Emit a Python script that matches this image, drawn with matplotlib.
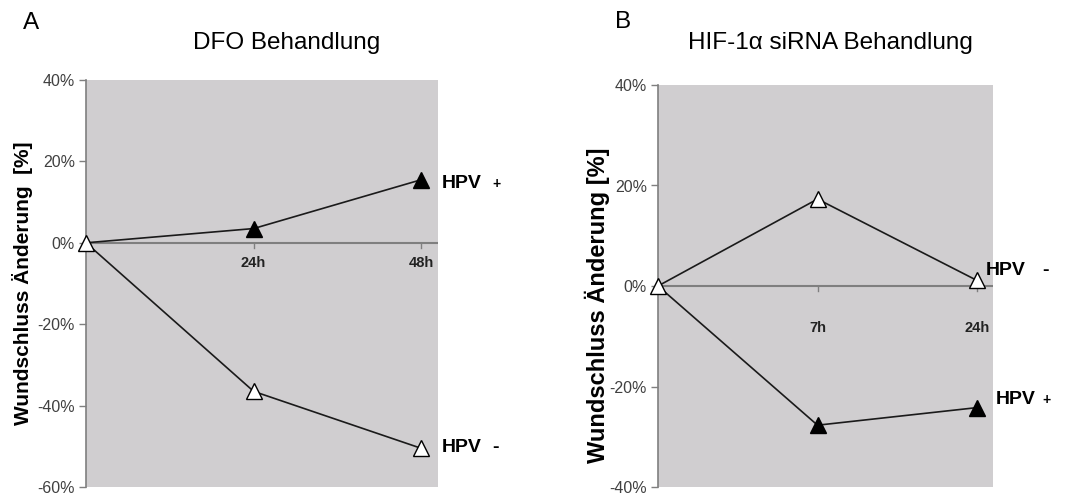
import numpy as np
import matplotlib.pyplot as plt

plt.rcParams['font.family'] = ['Liberation Sans', 'DejaVu Sans']

# Daten (Wundschluss-Änderung in %)
a_ticks = ["", "24h", "48h"]
a_hpv_pos = [0, 3.5, 15.5]
a_hpv_neg = [0, -36.5, -50.5]

b_ticks = ["", "7h", "24h"]
b_hpv_neg = [0, 17.3, 1.1]
b_hpv_pos = [0, -27.7, -24.2]

BG = "#d0ced0"
AXC = "#7f7f7f"


def panel(ax, ticks, hpv_pos, hpv_neg, ylim, yticks, tick_off, lbl_pos, lbl_neg):
    x = np.arange(len(ticks))
    ax.set_facecolor(BG)
    ax.plot(x, hpv_pos, color="#1a1a1a", lw=1.2, zorder=3)
    ax.plot(x, hpv_neg, color="#1a1a1a", lw=1.2, zorder=3)
    # Startpunkt ist weiß, HPV+ gefüllt
    ax.plot(x[1:], hpv_pos[1:], "^", ms=11, mfc="black", mec="black", zorder=4)
    ax.plot(x[1:], hpv_neg[1:], "^", ms=11, mfc="white", mec="black", mew=1.0, zorder=4)
    ax.plot(x[:1], hpv_neg[:1], "^", ms=11, mfc="white", mec="black", mew=1.0, zorder=5, clip_on=False)

    ax.set_xlim(0, 2.1)
    ax.set_ylim(*ylim)
    ax.set_yticks(yticks)
    ax.set_yticklabels([f"{v}%" for v in yticks], fontsize=11.5, color="#404040")
    ax.tick_params(axis="y", length=5, color=AXC, width=1, pad=3)

    for s in ["top", "right", "bottom"]:
        ax.spines[s].set_visible(False)
    ax.spines["left"].set_color(AXC)
    ax.spines["left"].set_linewidth(1.2)

    ax.axhline(0, color=AXC, lw=1.5, zorder=2)
    ax.set_xticks([])
    for xi, t in zip(x[1:], ticks[1:]):
        ax.plot([xi, xi], [0, -0.012 * (ylim[1] - ylim[0])], color=AXC, lw=1, zorder=2)
        ax.annotate(t, xy=(xi, 0), xytext=(0, -tick_off), textcoords="offset pixels",
                    ha="center", va="center", fontsize=10.5, fontweight="bold", color="#222222")

    # Beschriftungen der Kurven
    for val, txt in [(hpv_pos[-1], lbl_pos), (hpv_neg[-1], lbl_neg)]:
        ax.annotate("HPV", xy=(2, val), xytext=(txt[1], txt[2]), textcoords="offset pixels",
                    ha="left", va="center", fontsize=14, fontweight="bold",
                    annotation_clip=False)
        ax.annotate(txt[0], xy=(2, val), xytext=(txt[3], txt[2]), textcoords="offset pixels",
                    ha="left", va="center", fontsize=txt[4], fontweight="bold",
                    annotation_clip=False)


fig = plt.figure(figsize=(10.68, 4.94), dpi=100)
ax1 = fig.add_axes([86 / 1068, 1 - 487 / 494, 352 / 1068, 407 / 494])
ax2 = fig.add_axes([658 / 1068, 1 - 487 / 494, 335 / 1068, 402 / 494])

panel(ax1, a_ticks, a_hpv_pos, a_hpv_neg, (-60, 40), [-60, -40, -20, 0, 20, 40], 20,
      ("+", 21, -4, 71, 10), ("-", 21, 1, 71, 14))
panel(ax2, b_ticks, b_hpv_pos, b_hpv_neg, (-40, 40), [-40, -20, 0, 20, 40], 42,
      ("+", 19, 8, 65, 10), ("-", 9, 10, 65, 14))

fig.text(23 / 1068, 1 - 283 / 494, "Wundschluss Änderung  [%]", rotation=90,
         fontsize=15, fontweight="bold", ha="center", va="center")
fig.text(597 / 1068, 1 - 305 / 494, "Wundschluss Änderung [%]", rotation=90,
         fontsize=17, fontweight="bold", ha="center", va="center")

fig.text(23 / 1068, 1 - 23 / 494, "A", fontsize=17.5, va="center", ha="left")
fig.text(287 / 1068, 1 - 43 / 494, "DFO Behandlung", fontsize=17.5, va="center", ha="center")
fig.text(615 / 1068, 1 - 22 / 494, "B", fontsize=17.5, va="center", ha="left")
fig.text(830 / 1068, 1 - 43 / 494, "HIF-1α siRNA Behandlung", fontsize=17.5, va="center", ha="center")

fig.savefig("out.png", dpi=100)
